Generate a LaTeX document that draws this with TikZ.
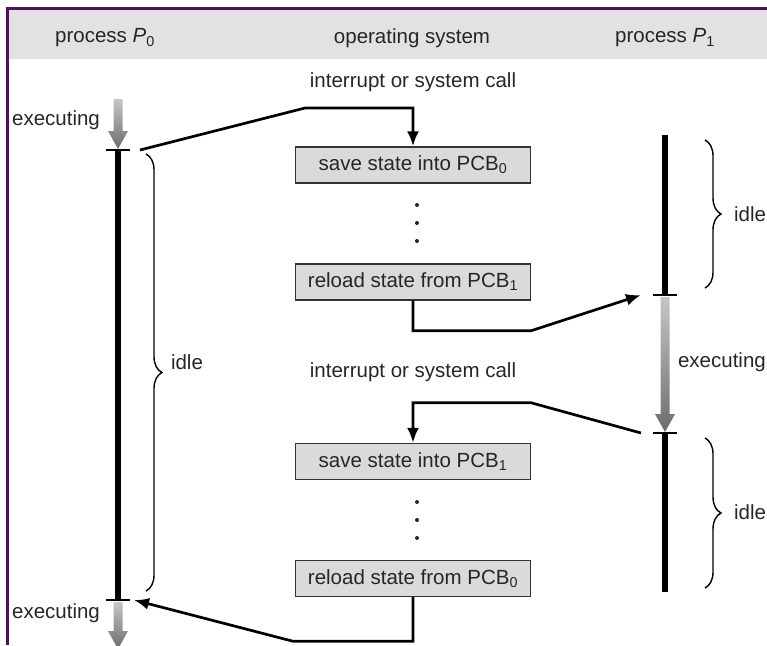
\documentclass[tikz,border=0pt]{standalone}
\usepackage{fontspec}
\setmainfont{Liberation Sans}
\usepackage{tikz}
\usetikzlibrary{shapes,arrows.meta,calc,decorations.pathreplacing}

\definecolor{framepurple}{RGB}{78,18,92}
\definecolor{headgray}{RGB}{226,226,226}
\definecolor{boxgray}{RGB}{218,218,218}
\definecolor{textgray}{RGB}{38,38,38}

% gray shaded arrow for an executing stretch: #1 top, #2 tip
\newcommand{\execarrow}[2]{%
  \shade[top color=gray!45, bottom color=gray!85!black]
    ($(#1)+(-4.5,0)$) -- ($(#2)+(-4.5,-18)$) -- ($(#2)+(-10,-18)$) -- (#2)
    -- ($(#2)+(10,-18)$) -- ($(#2)+(4.5,-18)$) -- ($(#1)+(4.5,0)$) -- cycle;}

\begin{document}
\begin{tikzpicture}[x=1pt, y=-1pt, >={Latex[length=15pt,width=12pt]}, text=textgray,
    font=\fontsize{20.5}{24}\selectfont]
    \tikzstyle{state} = [rectangle, draw=black!80, line width=1.4pt, fill=boxgray,
        minimum width=235, minimum height=36, inner sep=0pt]
    \tikzstyle{line} = [draw, line width=2.7pt, ->]
    \tikzstyle{bar} = [draw, line width=6pt]
    \tikzstyle{tick} = [draw, line width=1.5pt]
    \tikzstyle{idlebrace} = [draw, decorate, decoration={brace, amplitude=16pt},
        line width=1.4pt]

    \useasboundingbox (0,0) rectangle (767,645);
    \clip (0,0) rectangle (767,645);
    \fill[headgray] (7,9) rectangle (767,59);
    \draw[framepurple, line width=3pt] (7,645) -- (7,8) -- (767,8);

    % column heads
    \node (p0) at (105,38) {process \textit{P}\textsubscript{0}};
    \node (os) at (412,38) {operating system};
    \node (p1) at (665,38) {process \textit{P}\textsubscript{1}};

    % operating system column
    \node (irq0) at (413,82) {interrupt or system call};
    \node [state] (save0) at (413,165) {save state into PCB\textsubscript{0}};
    \node [state] (load1) at (413,282) {reload state from PCB\textsubscript{1}};
    \node (irq1) at (413,372) {interrupt or system call};
    \node [state] (save1) at (413,461.5) {save state into PCB\textsubscript{1}};
    \node [state] (load0) at (413,578.5) {reload state from PCB\textsubscript{0}};
    \foreach \y in {205,223,241,502,520,538}
        \fill[textgray] (417,\y) circle (2);

    % time lines
    \coordinate (a0) at (118,150);
    \coordinate (b0) at (118,600);
    \coordinate (top1) at (665,135);
    \coordinate (a1) at (665,295);
    \coordinate (b1) at (665,433);
    \coordinate (end1) at (665,592);

    \path [bar] (a0) -- (b0);
    \path [bar] (top1) -- (a1);
    \path [bar] (b1) -- (end1);
    \foreach \c in {a0,b0,a1,b1}
        \path [tick] ($(\c)+(-12,0)$) -- ($(\c)+(12,0)$);

    \execarrow{118,99}{118,149}
    \execarrow{665,297}{665,432}
    \execarrow{118,602}{118,649}

    \node (exec0) at (56,120) {executing};
    \node [anchor=east, inner xsep=1pt] (exec1) at (767,362) {executing};
    \node (exec2) at (56,613) {executing};

    \path [idlebrace] (146,154) -- (146,591);
    \path [idlebrace] (705,140) -- (705,288);
    \path [idlebrace] (705,438) -- (705,588);
    \node (idle0) at (187,362) {idle};
    \node (idle1) at (750,214) {idle};
    \node (idle2) at (750,512) {idle};

    % switches
    \path [line] ($(a0)+(22,0)$) -- (305,108) -| (save0.north);
    \path [line] (load1.south) |- ($(load1.south east)+(0,30)$)
        -- ($(a1)+(-24,0)$);
    \path [line] ($(b1)+(-24,0)$) -- ($(save1.north east)+(0,-40)$) -| (save1.north);
    \path [line] (load0.south) |- ($(load0.south west)+(-2,44)$)
        -- ($(b0)+(16,0)$);
\end{tikzpicture}
\end{document}
